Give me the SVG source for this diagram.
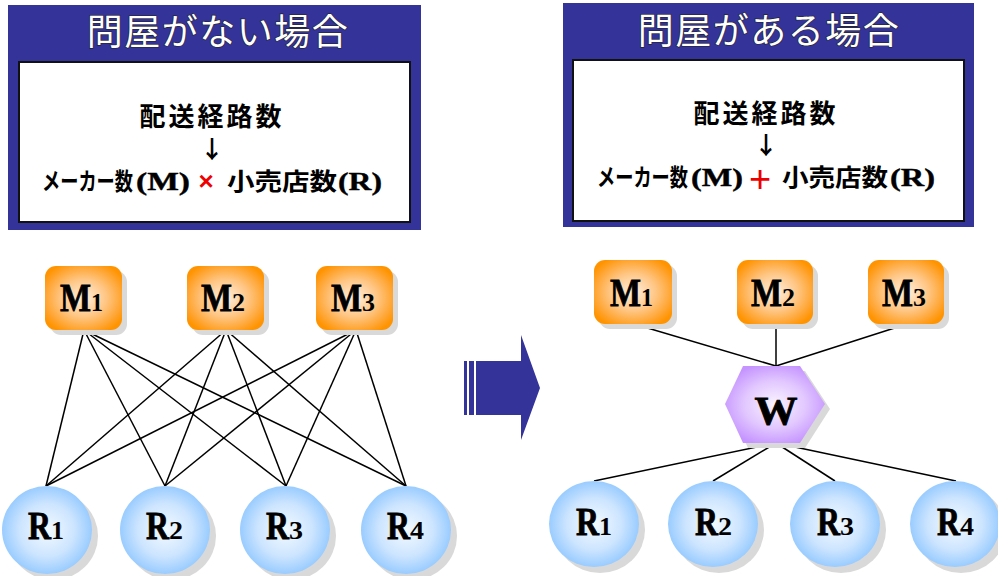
<svg xmlns="http://www.w3.org/2000/svg" width="998" height="576" viewBox="0 0 998 576">
<defs>
<radialGradient id="gOr" cx="50%" cy="50%" r="60%">
<stop offset="0" stop-color="#FFF0E0"/><stop offset="0.5" stop-color="#FFC582"/><stop offset="0.85" stop-color="#FFA22A"/><stop offset="1" stop-color="#FF9400"/>
</radialGradient>
<radialGradient id="gBl" cx="50%" cy="50%" r="50%">
<stop offset="0" stop-color="#F4FAFF"/><stop offset="0.6" stop-color="#CDE5FF"/><stop offset="1" stop-color="#99CCFF"/>
</radialGradient>
<radialGradient id="gPu" cx="50%" cy="50%" r="55%">
<stop offset="0" stop-color="#FAF4FF"/><stop offset="0.55" stop-color="#E2C8FF"/><stop offset="1" stop-color="#C594FF"/>
</radialGradient>
<style>
.panel{fill:#333399}
.inner{fill:#fff;stroke:#111;stroke-width:2}
.title{font-family:"Noto Sans CJK JP","Noto Sans",sans-serif;font-size:36px;fill:#fff;stroke:#222;stroke-width:1.2;paint-order:stroke;text-anchor:middle;letter-spacing:1.5px}
.jp{font-family:"Noto Sans CJK JP",sans-serif;font-weight:700;fill:#000}
.big{font-size:26px;text-anchor:middle;letter-spacing:3px}
.f3{font-size:24px}
.ser{font-family:"Liberation Serif","Times New Roman",serif;font-weight:700;font-size:26px;fill:#000;stroke:#000;stroke-width:0.4}
.lbl{font-family:"Liberation Serif","Times New Roman",serif;font-weight:700;font-size:41px;fill:#000;stroke:#000;stroke-width:0.8}
.sub{font-family:"Liberation Serif","Times New Roman",serif;font-weight:700;font-size:26px;fill:#000}
.shadow{fill:#d9d9d9}
.mbox{fill:url(#gOr)}
.rc{fill:url(#gBl)}
.conn line{stroke:#000;stroke-width:1.5}
</style>
</defs>

<!-- Left panel -->
<g id="panel-left">
<rect class="panel" x="8" y="5" width="413" height="225"/>
<text class="title" x="218" y="45">問屋がない場合</text>
<rect class="inner" x="19" y="62" width="391" height="160"/>
<text class="jp big" x="212" y="126">配送経路数</text>
<text class="jp" x="212" y="158" font-size="24" text-anchor="middle">↓</text>
<text class="jp f3" x="42" y="190" textLength="91" lengthAdjust="spacingAndGlyphs">メーカー数</text>
<text class="ser" x="136" y="190" textLength="54" lengthAdjust="spacingAndGlyphs">(M)</text>
<text x="206" y="190" font-family="Liberation Sans,sans-serif" font-weight="700" font-size="26" fill="#ee0000" text-anchor="middle">×</text>
<text class="jp f3" x="227" y="190" textLength="110" lengthAdjust="spacingAndGlyphs">小売店数</text>
<text class="ser" x="338" y="190" textLength="44" lengthAdjust="spacingAndGlyphs">(R)</text>
</g>

<!-- Right panel -->
<g id="panel-right">
<rect class="panel" x="563" y="3" width="411" height="224"/>
<text class="title" x="769" y="44">問屋がある場合</text>
<rect class="inner" x="573" y="60" width="391" height="161"/>
<text class="jp big" x="766" y="123">配送経路数</text>
<text class="jp" x="766" y="154" font-size="24" text-anchor="middle">↓</text>
<text class="jp f3" x="597" y="186" textLength="91" lengthAdjust="spacingAndGlyphs">メーカー数</text>
<text class="ser" x="691" y="186" textLength="52" lengthAdjust="spacingAndGlyphs">(M)</text>
<text x="760" y="192" font-family="Liberation Sans,sans-serif" font-weight="400" font-size="38" fill="#ee0000" text-anchor="middle">+</text>
<text class="jp f3" x="782" y="186" textLength="106" lengthAdjust="spacingAndGlyphs">小売店数</text>
<text class="ser" x="890" y="186" textLength="45" lengthAdjust="spacingAndGlyphs">(R)</text>
</g>

<!-- Middle arrow -->
<g id="big-arrow" fill="#333399">
<rect x="464" y="361" width="3" height="54"/>
<rect x="469" y="361" width="5" height="54"/>
<polygon points="476,361 521,361 521,335 540,388 521,440 521,415 476,415"/>
</g>

<!-- Connectors -->
<g id="connectors" class="conn">
<line x1="84" y1="330" x2="46" y2="486"/>
<line x1="84" y1="330" x2="165" y2="486"/>
<line x1="84" y1="330" x2="286" y2="486"/>
<line x1="84" y1="330" x2="406" y2="486"/>
<line x1="226" y1="330" x2="46" y2="486"/>
<line x1="226" y1="330" x2="165" y2="486"/>
<line x1="226" y1="330" x2="286" y2="486"/>
<line x1="226" y1="330" x2="406" y2="486"/>
<line x1="356" y1="330" x2="46" y2="486"/>
<line x1="356" y1="330" x2="165" y2="486"/>
<line x1="356" y1="330" x2="286" y2="486"/>
<line x1="356" y1="330" x2="406" y2="486"/>
<line x1="634" y1="324" x2="776" y2="366"/>
<line x1="776" y1="324" x2="776" y2="366"/>
<line x1="907" y1="324" x2="776" y2="366"/>
<line x1="776" y1="443" x2="594" y2="481"/>
<line x1="776" y1="443" x2="713" y2="481"/>
<line x1="776" y1="443" x2="835" y2="481"/>
<line x1="776" y1="443" x2="956" y2="481"/>
</g>

<!-- Left nodes -->
<g id="L-M1"><rect class="shadow" x="50" y="271" width="77" height="64" rx="11"/><rect class="mbox" x="45" y="266" width="77" height="64" rx="11"/><text class="lbl" x="60" y="311" textLength="31" lengthAdjust="spacingAndGlyphs">M</text><text class="sub" x="91" y="311" textLength="12" lengthAdjust="spacingAndGlyphs">1</text></g>
<g id="L-M2"><rect class="shadow" x="192" y="271" width="77" height="64" rx="11"/><rect class="mbox" x="187" y="266" width="77" height="64" rx="11"/><text class="lbl" x="201" y="311" textLength="31" lengthAdjust="spacingAndGlyphs">M</text><text class="sub" x="232" y="311" textLength="13" lengthAdjust="spacingAndGlyphs">2</text></g>
<g id="L-M3"><rect class="shadow" x="321" y="271" width="77" height="64" rx="11"/><rect class="mbox" x="316" y="266" width="77" height="64" rx="11"/><text class="lbl" x="331" y="311" textLength="31" lengthAdjust="spacingAndGlyphs">M</text><text class="sub" x="362" y="311" textLength="13" lengthAdjust="spacingAndGlyphs">3</text></g>

<g id="L-R1"><ellipse class="shadow" cx="53" cy="536" rx="45" ry="44"/><ellipse class="rc" cx="47" cy="530" rx="45" ry="44"/><text class="lbl" x="28" y="539" textLength="23" lengthAdjust="spacingAndGlyphs">R</text><text class="sub" x="51" y="539" textLength="13" lengthAdjust="spacingAndGlyphs">1</text></g>
<g id="L-R2"><ellipse class="shadow" cx="171" cy="536" rx="45" ry="44"/><ellipse class="rc" cx="165" cy="530" rx="45" ry="44"/><text class="lbl" x="146" y="539" textLength="23" lengthAdjust="spacingAndGlyphs">R</text><text class="sub" x="169" y="539" textLength="14" lengthAdjust="spacingAndGlyphs">2</text></g>
<g id="L-R3"><ellipse class="shadow" cx="291" cy="536" rx="45" ry="44"/><ellipse class="rc" cx="285" cy="530" rx="45" ry="44"/><text class="lbl" x="266" y="539" textLength="23" lengthAdjust="spacingAndGlyphs">R</text><text class="sub" x="289" y="539" textLength="14" lengthAdjust="spacingAndGlyphs">3</text></g>
<g id="L-R4"><ellipse class="shadow" cx="412" cy="536" rx="45" ry="44"/><ellipse class="rc" cx="406" cy="530" rx="45" ry="44"/><text class="lbl" x="387" y="539" textLength="23" lengthAdjust="spacingAndGlyphs">R</text><text class="sub" x="410" y="539" textLength="14" lengthAdjust="spacingAndGlyphs">4</text></g>

<!-- Right nodes -->
<g id="R-M1"><rect class="shadow" x="599" y="265" width="78" height="64" rx="11"/><rect class="mbox" x="594" y="260" width="78" height="64" rx="11"/><text class="lbl" x="610" y="306" textLength="31" lengthAdjust="spacingAndGlyphs">M</text><text class="sub" x="641" y="306" textLength="12" lengthAdjust="spacingAndGlyphs">1</text></g>
<g id="R-M2"><rect class="shadow" x="742" y="265" width="76" height="64" rx="11"/><rect class="mbox" x="737" y="260" width="76" height="64" rx="11"/><text class="lbl" x="751" y="306" textLength="31" lengthAdjust="spacingAndGlyphs">M</text><text class="sub" x="782" y="306" textLength="13" lengthAdjust="spacingAndGlyphs">2</text></g>
<g id="R-M3"><rect class="shadow" x="873" y="265" width="76" height="64" rx="11"/><rect class="mbox" x="868" y="260" width="76" height="64" rx="11"/><text class="lbl" x="882" y="306" textLength="31" lengthAdjust="spacingAndGlyphs">M</text><text class="sub" x="913" y="306" textLength="13" lengthAdjust="spacingAndGlyphs">3</text></g>

<g id="W"><polygon class="shadow" points="748,371 805,371 830,409 805,448 748,448 730,409"/><polygon fill="url(#gPu)" points="743,366 800,366 825,404 800,443 743,443 725,404"/><text class="lbl" x="776" y="424" font-size="47" text-anchor="middle" textLength="43" lengthAdjust="spacingAndGlyphs">W</text></g>

<g id="R-R1"><ellipse class="shadow" cx="600" cy="530" rx="45" ry="43"/><ellipse class="rc" cx="594" cy="524" rx="45" ry="43"/><text class="lbl" x="576" y="535" textLength="23" lengthAdjust="spacingAndGlyphs">R</text><text class="sub" x="599" y="535" textLength="13" lengthAdjust="spacingAndGlyphs">1</text></g>
<g id="R-R2"><ellipse class="shadow" cx="719" cy="530" rx="45" ry="43"/><ellipse class="rc" cx="713" cy="524" rx="45" ry="43"/><text class="lbl" x="695" y="535" textLength="23" lengthAdjust="spacingAndGlyphs">R</text><text class="sub" x="718" y="535" textLength="14" lengthAdjust="spacingAndGlyphs">2</text></g>
<g id="R-R3"><ellipse class="shadow" cx="841" cy="530" rx="45" ry="43"/><ellipse class="rc" cx="835" cy="524" rx="45" ry="43"/><text class="lbl" x="817" y="535" textLength="23" lengthAdjust="spacingAndGlyphs">R</text><text class="sub" x="840" y="535" textLength="14" lengthAdjust="spacingAndGlyphs">3</text></g>
<g id="R-R4"><ellipse class="shadow" cx="961" cy="530" rx="45" ry="43"/><ellipse class="rc" cx="955" cy="524" rx="45" ry="43"/><text class="lbl" x="937" y="535" textLength="23" lengthAdjust="spacingAndGlyphs">R</text><text class="sub" x="960" y="535" textLength="14" lengthAdjust="spacingAndGlyphs">4</text></g>
</svg>
